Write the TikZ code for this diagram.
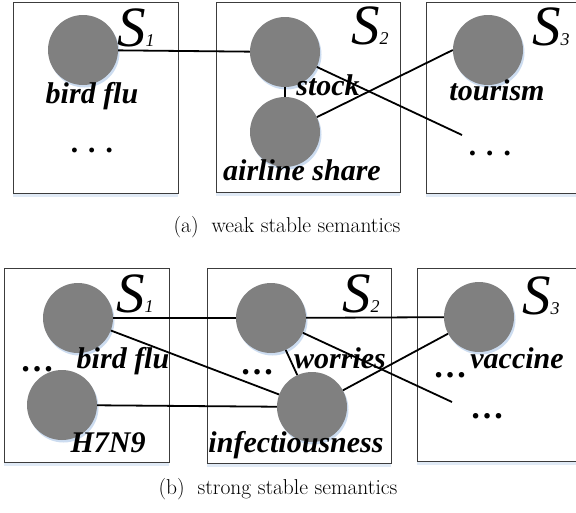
\documentclass[tikz,border=0pt]{standalone}
\usepackage{fontspec}
\newfontfamily\tnr{Liberation Serif}
\usetikzlibrary{shadows}

\definecolor{topicgray}{RGB}{128,128,128}
\definecolor{shadowblue}{RGB}{204,220,240}
\definecolor{boxgray}{RGB}{60,60,60}

\begin{document}
\begin{tikzpicture}[
    x=1pt, y=-1pt,
    window/.style={
        draw=boxgray,
        line width=0.8pt,
        fill=white,
        drop shadow={shadow xshift=0pt, shadow yshift=-4pt, fill=shadowblue, opacity=0.6}
    },
    topic/.style={
        circle,
        fill=topicgray,
        minimum size=70pt,
        inner sep=0pt,
        drop shadow={shadow xshift=1.5pt, shadow yshift=-2.5pt, fill=shadowblue, opacity=1}
    },
    term/.style={
        anchor=base,
        inner sep=0pt,
        font=\tnr\bfseries\itshape\fontsize{30}{30}\selectfont
    },
    etc/.style={
        anchor=base,
        inner sep=0pt,
        font=\tnr\bfseries\fontsize{34}{34}\selectfont
    },
    setname/.style={
        anchor=base west,
        inner sep=0pt,
        text height=38pt,
        font=\tnr\itshape
    },
    link/.style={line width=1.8pt}
]
    \useasboundingbox (0,0) rectangle (576,512);

    % (a) windows
    \draw[window] (13,2) rectangle (178,193);
    \draw[window] (216,2) rectangle (400,192);
    \draw[window] (426,2) rectangle (590,193);

    % (a) topics
    \node[topic] (fluA) at (83,50) {};
    \node[topic] (stockA) at (285,52) {};
    \node[topic] (airA) at (285,132) {};
    \node[topic] (tourA) at (488,50) {};
    \coordinate (endA) at (462,135);

    % (a) links
    \draw[link] (fluA) -- (stockA);
    \draw[link] (stockA) -- (airA);
    \draw[link] (stockA) -- (endA);
    \draw[link] (airA.25) -- (tourA.west);

    % (a) labels
    \node[setname] (s1A) at (117,46) {\fontsize{57}{57}\selectfont S\fontsize{18}{18}\selectfont 1};
    \node[setname] (s2A) at (351,44) {\fontsize{57}{57}\selectfont S\fontsize{18}{18}\selectfont 2};
    \node[setname] (s3A) at (532,45) {\fontsize{57}{57}\selectfont S\fontsize{18}{18}\selectfont 3};
    \node[term] (tfluA) at (92,103) {bird flu};
    \node[term] (tstockA) at (328,95) {stock};
    \node[term] (tairA) at (302,180) {airline share};
    \node[term] (ttourA) at (497,100) {tourism};
    \node[term] (dotsA1) at (93,152) {.\hspace{10pt}.\hspace{10pt}.};
    \node[term] (dotsA3) at (491,155) {.\hspace{10pt}.\hspace{10pt}.};

    \node[anchor=base west, font=\fontsize{21.5}{21.5}\selectfont] (capA) at (170,232)
        {(a)\hspace{0.6em}weak stable semantics};

    % (b) windows
    \draw[window] (4,268) rectangle (169,462);
    \draw[window] (207,268) rectangle (391,463);
    \draw[window] (417,268) rectangle (590,461);

    % (b) topics
    \node[topic] (fluB) at (78,318) {};
    \node[topic] (h7B) at (62,405) {};
    \node[topic] (worB) at (271,318) {};
    \node[topic] (infB) at (312,407) {};
    \node[topic] (vacB) at (479,317) {};
    \coordinate (endB) at (452,402);

    % (b) links
    \draw[link] (fluB) -- (worB);
    \draw[link] (worB) -- (vacB);
    \draw[link] (fluB) -- (infB);
    \draw[link] (h7B) -- (infB);
    \draw[link] (worB) -- (infB);
    \draw[link] (worB) -- (endB);
    \draw[link] (infB) -- (vacB);

    % (b) labels
    \node[setname] (s1B) at (116,312) {\fontsize{57}{57}\selectfont S\fontsize{18}{18}\selectfont 1};
    \node[setname] (s2B) at (342,312) {\fontsize{57}{57}\selectfont S\fontsize{18}{18}\selectfont 2};
    \node[setname] (s3B) at (522,314) {\fontsize{57}{57}\selectfont S\fontsize{18}{18}\selectfont 3};
    \node[term] (tfluB) at (123,368) {bird flu};
    \node[term] (th7B) at (108,452) {H7N9};
    \node[term] (tworB) at (340,368) {worries};
    \node[term] (tinfB) at (296,452) {infectiousness};
    \node[term] (tvacB) at (517,368) {vaccine};
    \node[etc] (dotsB1) at (37,371) {…};
    \node[etc] (dotsB2) at (257,374) {…};
    \node[etc] (dotsB3) at (450,377) {…};
    \node[etc] (dotsB4) at (487,418) {…};

    \node[anchor=base west, font=\fontsize{21.5}{21.5}\selectfont] (capB) at (155,494)
        {(b)\hspace{0.6em}strong stable semantics};

\end{tikzpicture}
\end{document}
